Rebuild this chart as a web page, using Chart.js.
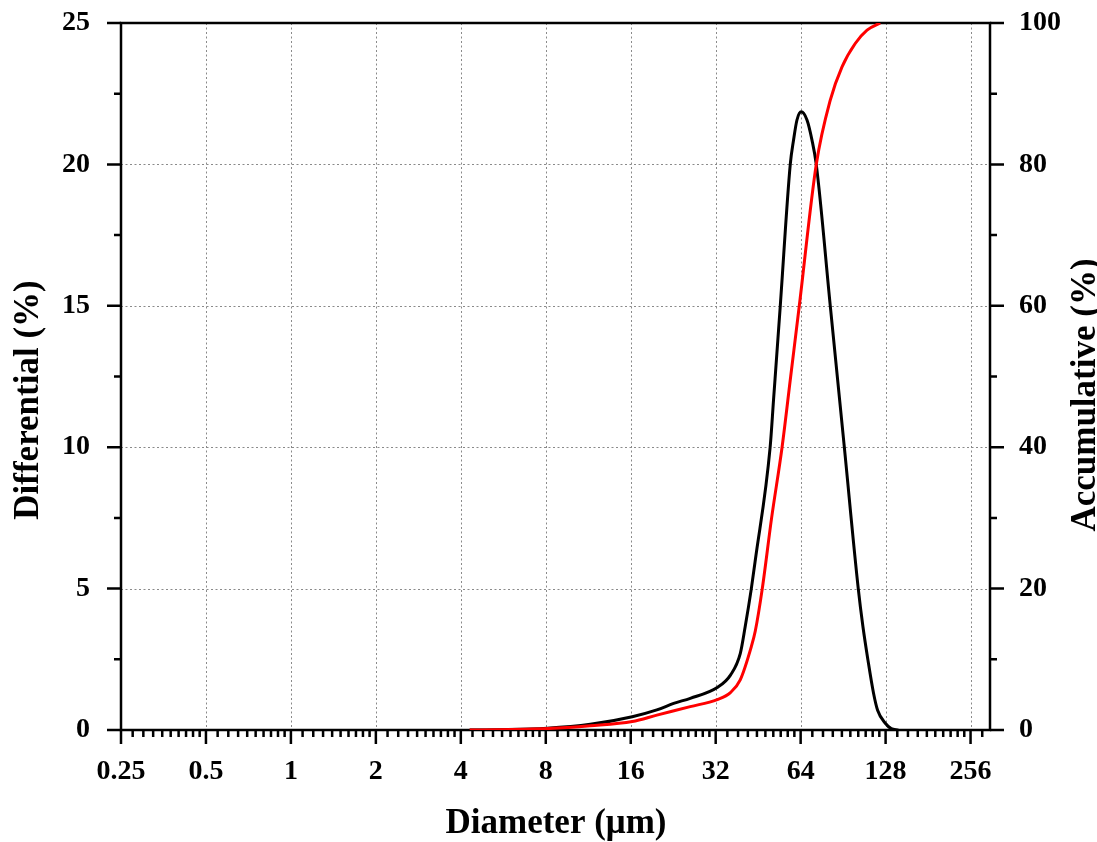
<!DOCTYPE html>
<html>
<head>
<meta charset="utf-8">
<script src="https://cdn.jsdelivr.net/npm/chart.js@4.4.1/dist/chart.umd.min.js"></script>
<style>
    html, body { margin: 0; padding: 0; background: #fff; }
</style>
</head>
<body>
<canvas id="grafic" width="1097" height="842"></canvas>
<script>
// tick labels
const xTicks = [0.25, 0.5, 1, 2, 4, 8, 16, 32, 64, 128, 256];
const yTicks = [0, 5, 10, 15, 20, 25];
const y2Ticks = [0, 20, 40, 60, 80, 100];

// Differential (%) vs diameter (um)
const diamDiff = [4.3, 5.5, 8.1, 11.5, 16.2, 19.8, 22.7, 26.0, 32.4, 36.1, 39.1, 40.7, 42.8, 44.2,
    49.9, 51.3, 54.2, 58.8, 60.4, 62.1, 64.3, 67.4, 70.2, 72.7, 81.5, 91.4, 102.4,
    106.4, 110.8, 116.0, 119.9, 127.7, 134.0, 141.9];
const differential = [0, 0.01, 0.06, 0.2, 0.47, 0.71, 0.94, 1.12, 1.5, 1.94, 2.7, 3.65, 5.0, 6.0,
    10.0, 11.67, 15.0, 20.0, 20.86, 21.57, 21.86, 21.57, 20.86, 20.0, 15.0, 10.0, 5.0,
    3.65, 2.48, 1.3, 0.7, 0.24, 0.05, 0];

// Accumulative (%) vs diameter (um)
const diamCum = [4.3, 8.1, 11.5, 16.2, 19.8, 26.0, 32.4, 36.1, 39.1, 42.8, 44.2, 46.8, 50.5,
    55.0, 59.0, 63.3, 72.7, 81.5, 89.7, 99.9, 110.0, 122.5];
const accumulative = [0, 0.2, 0.6, 1.2, 2.1, 3.3, 4.3, 5.3, 7.1, 11.8, 14.0, 20.0, 30.0,
    40.0, 50.0, 60.0, 80.0, 89.1, 93.8, 97.1, 99.0, 100];

const fontFamily = '"Liberation Serif", "Times New Roman", serif';

// grila punctata, cadrul si liniutele (majore + minore)
const axePlugin = {
    id: 'axePlugin',
    beforeDatasetsDraw: (chart) => {
        const { ctx, chartArea: a, scales: { x, y, y2 } } = chart;
        ctx.save();

        ctx.strokeStyle = '#8a8a8a';
        ctx.lineWidth = 1;
        ctx.setLineDash([2, 2.5]);
        ctx.beginPath();
        xTicks.slice(1).forEach(v => {
            const px = Math.round(x.getPixelForValue(v)) + 0.5;
            ctx.moveTo(px, a.top);
            ctx.lineTo(px, a.bottom);
        });
        yTicks.slice(1, -1).forEach(v => {
            const py = Math.round(y.getPixelForValue(v)) + 0.5;
            ctx.moveTo(a.left, py);
            ctx.lineTo(a.right, py);
        });
        ctx.stroke();
        ctx.setLineDash([]);

        ctx.strokeStyle = '#000';
        ctx.lineWidth = 2.5;
        ctx.strokeRect(a.left, a.top, a.right - a.left, a.bottom - a.top);

        ctx.beginPath();
        // jos
        xTicks.forEach(m => {
            const px = x.getPixelForValue(m);
            ctx.moveTo(px, a.bottom);
            ctx.lineTo(px, a.bottom + 14);
            for (let k = 1; k <= 9; k++) {
                const v = m * (1 + k / 10);
                if (v > x.max) break;
                const p = x.getPixelForValue(v);
                ctx.moveTo(p, a.bottom);
                ctx.lineTo(p, a.bottom + 7);
            }
        });
        // stanga
        yTicks.forEach(v => {
            const py = y.getPixelForValue(v);
            ctx.moveTo(a.left, py);
            ctx.lineTo(a.left - 14, py);
            if (v < 25) {
                const pm = y.getPixelForValue(v + 2.5);
                ctx.moveTo(a.left, pm);
                ctx.lineTo(a.left - 7, pm);
            }
        });
        // dreapta
        y2Ticks.forEach(v => {
            const py = y2.getPixelForValue(v);
            ctx.moveTo(a.right, py);
            ctx.lineTo(a.right + 14, py);
            if (v < 100) {
                const pm = y2.getPixelForValue(v + 10);
                ctx.moveTo(a.right, pm);
                ctx.lineTo(a.right + 7, pm);
            }
        });
        ctx.stroke();
        ctx.restore();
    },
    afterDraw: (chart) => {
        const ctx = chart.ctx;
        ctx.save();
        ctx.fillStyle = '#000';
        ctx.font = 'bold 35px ' + fontFamily;
        ctx.textAlign = 'center';
        ctx.textBaseline = 'alphabetic';

        ctx.fillText('Diameter (μm)', 556, 833);

        ctx.save();
        ctx.translate(37.5, 400);
        ctx.rotate(-Math.PI / 2);
        ctx.fillText('Differential (%)', 0, 0);
        ctx.restore();

        ctx.save();
        ctx.translate(1095, 395);
        ctx.rotate(-Math.PI / 2);
        ctx.fillText('Accumulative (%)', 0, 0);
        ctx.restore();

        ctx.restore();
    }
};

const tickFont = { family: fontFamily, size: 28, weight: 'bold' };

// axele verticale: fara spatiu suplimentar sus/jos pentru etichete
const fixVertical = (w) => (scale) => {
    scale.width = w;
    scale.paddingTop = 0;
    scale.paddingBottom = 0;
};

const ctx = document.getElementById('grafic').getContext('2d');
const chart = new Chart(ctx, {
    type: 'line',
    data: {
        datasets: [
            {
                label: 'Accumulative',
                data: diamCum.map((d, i) => ({ x: d, y: accumulative[i] })),
                yAxisID: 'y2',
                borderColor: '#ff0000',
                borderWidth: 3,
                pointRadius: 0,
                cubicInterpolationMode: 'monotone',
                order: 0
            },
            {
                label: 'Differential',
                data: diamDiff.map((d, i) => ({ x: d, y: differential[i] })),
                yAxisID: 'y',
                borderColor: '#000000',
                borderWidth: 3,
                pointRadius: 0,
                cubicInterpolationMode: 'monotone',
                order: 1
            }
        ]
    },
    options: {
        responsive: false,
        animation: false,
        layout: { padding: { top: 23, left: 0, right: 0, bottom: 0 } },
        plugins: {
            legend: { display: false },
            tooltip: { enabled: false }
        },
        scales: {
            x: {
                type: 'logarithmic',
                min: 0.25,
                max: 300,
                grid: { display: false },
                border: { display: false },
                afterBuildTicks: (axis) => { axis.ticks = xTicks.map(v => ({ value: v })); },
                afterFit: (scale) => { scale.height = 112; },
                ticks: {
                    autoSkip: false,
                    maxRotation: 0,
                    padding: 17,
                    color: '#000',
                    font: tickFont,
                    callback: (value) => String(value)
                }
            },
            y: {
                type: 'linear',
                position: 'left',
                min: 0,
                max: 25,
                grid: { display: false },
                border: { display: false },
                afterBuildTicks: (axis) => { axis.ticks = yTicks.map(v => ({ value: v })); },
                afterFit: fixVertical(121),
                ticks: { padding: 23, color: '#000', font: tickFont }
            },
            y2: {
                type: 'linear',
                position: 'right',
                min: 0,
                max: 100,
                grid: { display: false },
                border: { display: false },
                afterBuildTicks: (axis) => { axis.ticks = y2Ticks.map(v => ({ value: v })); },
                afterFit: fixVertical(107),
                ticks: { padding: 21, color: '#000', font: tickFont }
            }
        }
    },
    plugins: [axePlugin]
});
</script>
</body>
</html>
